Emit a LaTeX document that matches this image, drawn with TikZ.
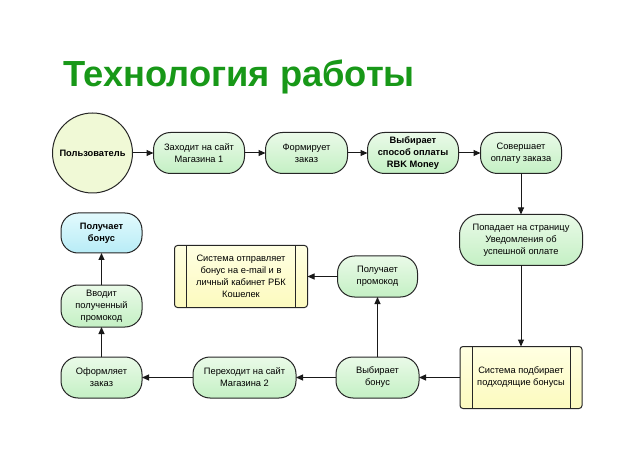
\documentclass[tikz,border=0pt]{standalone}
\usepackage{fontspec}
\setmainfont{Liberation Sans}
\usepackage{xcolor}
\usepackage{tikz}
\usetikzlibrary{
  arrows.meta,
  positioning
}
\definecolor{titlegreen}{RGB}{24,152,24}
\definecolor{acttop}{RGB}{234,250,232}
\definecolor{actbot}{RGB}{196,240,196}
\definecolor{userfill}{RGB}{240,249,214}
\definecolor{bonustop}{RGB}{226,250,253}
\definecolor{bonusbot}{RGB}{184,236,246}
\definecolor{systop}{RGB}{255,255,226}
\definecolor{sysbot}{RGB}{252,250,190}

\begin{document}
\begin{tikzpicture}[
    x=1pt, y=-1pt,
    node distance=20pt,
    every node/.style={font=\fontsize{9.3}{12}\selectfont},
    act/.style={
      draw=black!85,
      line width=1pt,
      rounded corners=17pt,
      align=center,
      top color=acttop,
      bottom color=actbot,
      minimum height=41pt,
      inner sep=1pt,
      outer sep=0pt
    },
    sys/.style={
      draw=black!85,
      line width=1pt,
      rounded corners=3pt,
      align=center,
      top color=systop,
      bottom color=sysbot,
      minimum height=62pt,
      inner sep=1pt,
      outer sep=0pt,
      path picture={
        \draw[line width=1pt, black!85]
          ([xshift=12pt]path picture bounding box.north west) --
          ([xshift=12pt]path picture bounding box.south west)
          ([xshift=-12pt]path picture bounding box.north east) --
          ([xshift=-12pt]path picture bounding box.south east);
      }
    },
    ar/.style={-{Triangle[length=7pt,width=6pt]}, line width=1pt, black!90}
  ]
    \fill[white] (0,0) rectangle (640,465);
    \useasboundingbox (0,0) rectangle (640,465);

    % title
    \node[anchor=base west, inner sep=0, text=titlegreen,
      font=\fontsize{36.3}{44}\selectfont\bfseries] (title) at (63,87)
      {Технология работы};

    % top chain: user -> shop 1 -> order -> payment way -> payment
    \node[circle, draw=black!85, line width=1pt, fill=userfill,
      minimum size=80pt, inner sep=0, outer sep=0pt,
      font=\fontsize{9.3}{12}\selectfont\bfseries]
      (user) at (92.5,153) {Пользователь};
    \node[act, right=21pt of user, minimum width=91pt] (shop1)
      {Заходит на сайт\\Магазина 1};
    \node[act, right=21pt of shop1, minimum width=82pt] (order1)
      {Формирует\\заказ};
    \node[act, right=of order1, minimum width=91pt,
      font=\fontsize{9.3}{12}\selectfont\bfseries] (method)
      {Выбирает\\способ оплаты\\RBK Money};
    \node[act, right=22pt of method, minimum width=81pt] (pay)
      {Совершает\\оплату заказа};

    \draw[ar] (user) -- (shop1);
    \draw[ar] (shop1) -- (order1);
    \draw[ar] (order1) -- (method);
    \draw[ar] (method) -- (pay);

    % right column
    \node[act, below=41pt of pay, minimum width=123pt, minimum height=51pt,
      rounded corners=20pt] (notice)
      {Попадает на страницу\\Уведомления об\\успешной оплате};
    \node[sys, below=81pt of notice, minimum width=122pt] (match)
      {Система подбирает\\подходящие бонусы};

    \draw[ar] (pay) -- (notice);
    \draw[ar] (notice) -- (match);

    % bottom chain back to the left
    \node[act, left=41pt of match, minimum width=83pt] (pick)
      {Выбирает\\бонус};
    \node[act, left=40pt of pick, minimum width=103pt] (shop2)
      {Переходит на сайт\\Магазина 2};
    \node[act, left=51pt of shop2, minimum width=81pt] (order2)
      {Оформляет\\заказ};
    \node[act, above=30pt of order2, minimum width=81pt, minimum height=42pt] (enter)
      {Вводит\\полученный\\промокод};
    \node[act, above=32pt of enter, minimum width=81pt, minimum height=40pt,
      top color=bonustop, bottom color=bonusbot,
      font=\fontsize{9.3}{12}\selectfont\bfseries] (bonus)
      {Получает\\бонус};

    \draw[ar] (match) -- (pick);
    \draw[ar] (pick) -- (shop2);
    \draw[ar] (shop2) -- (order2);
    \draw[ar] (order2) -- (enter);
    \draw[ar] (enter) -- (bonus);

    % promo branch
    \node[act, above=60pt of pick, minimum width=80pt] (promo)
      {Получает\\промокод};
    \node[sys, left=30pt of promo, minimum width=133pt] (send)
      {Система отправляет\\бонус на e-mail и в\\личный кабинет РБК\\Кошелек};

    \draw[ar] (pick) -- (promo);
    \draw[ar] (promo) -- (send);
\end{tikzpicture}
\end{document}
